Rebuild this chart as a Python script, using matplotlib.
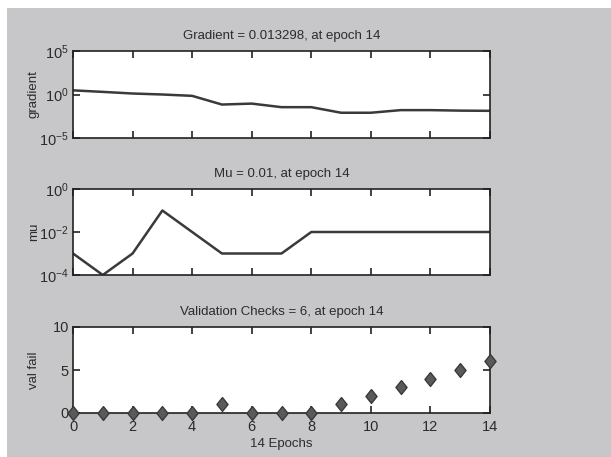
import matplotlib
matplotlib.use("Agg")
import matplotlib.pyplot as plt
from matplotlib.patches import Rectangle
import numpy as np

epochs = list(range(15))
gradient = [3.0, 2.0, 1.3, 1.0, 0.7, 0.07, 0.09, 0.035, 0.035, 0.008, 0.008, 0.016, 0.016, 0.014, 0.013298]
mu = [1e-3, 1e-4, 1e-3, 1e-1, 1e-2, 1e-3, 1e-3, 1e-3, 1e-2, 1e-2, 1e-2, 1e-2, 1e-2, 1e-2, 1e-2]
val_fail = [0, 0, 0, 0, 0, 1, 0, 0, 0, 1, 2, 3, 4, 5, 6]

titles = ["Gradient = 0.013298, at epoch 14", "Mu = 0.01, at epoch 14",
          "Validation Checks = 6, at epoch 14"]
ylabels = ["gradient", "mu", "val fail"]
xticks = [0, 2, 4, 6, 8, 10, 12, 14]

plt.rcParams['font.family'] = ['Liberation Sans', 'DejaVu Sans']
TXT = '#2b2b2b'
BG = '#c7c7c9'
LINE = '#3a3a3a'

W, H = 611, 457
fig = plt.figure(figsize=(W / 100, H / 100), dpi=100, facecolor='white')
fig.patches.append(Rectangle((7 / W, 0), 1 - 7 / W, 1 - 8 / H, transform=fig.transFigure,
                             facecolor=BG, edgecolor='none', zorder=-10))

left = 73 / W
width = (490 - 73) / W
rows = [(51, 138), (189, 275), (327, 413)]
axes = []
for (t, b) in rows:
    ax = fig.add_axes([left, 1 - b / H, width, (b - t) / H])
    ax.set_facecolor('white')
    for s in ax.spines.values():
        s.set_color('#222222')
        s.set_linewidth(1.2)
    ax.tick_params(direction='in', length=5, width=1.2, colors='#222222',
                   top=True, right=True, labelcolor=TXT, labelsize=10.5)
    ax.tick_params(axis='y', pad=3)
    ax.tick_params(axis='x', pad=5)
    ax.set_xlim(0, 14)
    ax.set_xticks(xticks)
    axes.append(ax)

ax1, ax2, ax3 = axes
ax1.semilogy(epochs, gradient, color=LINE, lw=1.8)
ax1.set_ylim(1e-5, 1e5)
ax1.set_yticks([1e-5, 1e0, 1e5])
ax1.minorticks_off()
ax1.set_xticklabels([])

ax2.semilogy(epochs, mu, color=LINE, lw=1.8)
ax2.set_ylim(1e-4, 1e0)
ax2.set_yticks([1e-4, 1e-2, 1e0])
ax2.minorticks_off()
ax2.set_xticklabels([])

diamond = [(0, 1), (0.8, 0), (0, -1), (-0.8, 0), (0, 1)]
ax3.plot(epochs, val_fail, linestyle='none', marker=diamond, markersize=10,
         markerfacecolor='#5a5a5a', markeredgecolor='#3a3a3a', markeredgewidth=1,
         clip_on=False, zorder=5)
ax3.set_ylim(0, 10)
ax3.set_yticks([0, 5, 10])
ax3.set_xticklabels([str(x) for x in xticks])
ax3.set_xlabel("14 Epochs", color=TXT, fontsize=9.5, labelpad=3)

for ax, t, yl in zip(axes, titles, ylabels):
    ax.set_title(t, color=TXT, fontsize=9.5, pad=9)
    ax.set_ylabel(yl, color=TXT, fontsize=9.5)
    ax.yaxis.set_label_coords(-33 / 417, 0.5)

fig.savefig("out.png", dpi=100, facecolor=fig.get_facecolor())
